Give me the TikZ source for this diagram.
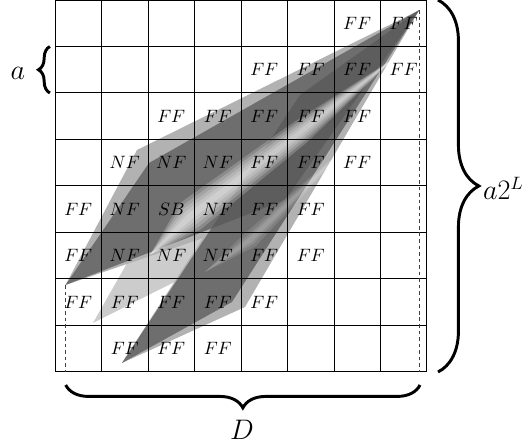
\documentclass[tikz,border=0pt]{standalone}
\usetikzlibrary{decorations.pathreplacing,calc}
\begin{document}
\begin{tikzpicture}[
  outerband/.style={fill=black!30},
  innerband/.style={fill=black!57},
  tipband/.style={fill=black!20},
  overlapshade/.style={fill=black,fill opacity=0.15},
  glow/.style={fill=white,fill opacity=#1},
  gridline/.style={line width=0.6pt,black},
  guide/.style={dash pattern=on 2.2pt off 1.8pt,line width=0.6pt,black!75},
  bigbrace/.style={decorate,line width=1.8pt,decoration={brace,amplitude=#1}},
  cell/.style={inner sep=0pt,font=\fontsize{10.95}{13}\selectfont},
  biglabel/.style={font=\fontsize{16}{19}\selectfont,inner sep=0pt}]
\useasboundingbox (-1.183,-1.591) rectangle (10.194,8.0);
% key points of the three wedges
\coordinate (A) at (7.83,7.78);
\coordinate (B1) at (1.763,4.774);
\coordinate (T1) at (0.226,1.871);
\coordinate (C1) at (5.269,3.591);
\coordinate (P1) at (2.022,4.495);
\coordinate (C1i) at (4.946,3.699);
\coordinate (B2) at (3.118,5.097);
\coordinate (T2) at (0.817,1.054);
\coordinate (C2) at (5.011,3.161);
\coordinate (D3) at (5.376,6.280);
\coordinate (T3) at (1.441,0.194);
\coordinate (E3) at (4.086,1.398);
\coordinate (D3i) at (5.269,5.957);
\coordinate (E3i) at (3.806,1.505);
% wedges
\fill[tipband] (A) -- (B2) -- (T2) -- (C2) -- cycle;
\fill[outerband] (A) -- (B1) -- (T1) -- (C1) -- cycle;
\fill[outerband] (A) -- (D3) -- (T3) -- (E3) -- cycle;
\fill[innerband] (A) -- (P1) -- (T1) -- (C1i) -- cycle;
\fill[innerband] (A) -- (D3i) -- (T3) -- (E3i) -- cycle;
\begin{scope}
  \clip (A) -- (P1) -- (T1) -- (C1i) -- cycle;
  \fill[overlapshade] (A) -- (D3i) -- (T3) -- (E3i) -- cycle;
\end{scope}
% soft bright streaks
\coordinate (Ss) at (2.043,2.516);
\coordinate (Sm1) at (2.903,3.344);
\coordinate (Sm2) at (5.269,5.151);
\coordinate (Se) at (7.30,6.75);
\foreach \w in {1,0.8,0.6,0.4,0.2}
  \fill[glow=0.2] (Ss) -- ($(Sm1)!\w*0.36cm!90:(Se)$) -- ($(Sm2)!\w*0.26cm!90:(Se)$) -- (Se)
    -- ($(Sm2)!\w*0.26cm!-90:(Se)$) -- ($(Sm1)!\w*0.36cm!-90:(Se)$) -- cycle;
\coordinate (Qs) at (3.226,2.151);
\coordinate (Qm) at (4.194,2.839);
\coordinate (Qe) at (6.667,5.204);
\foreach \w in {1,0.6,0.3}
  \fill[glow=0.12] (Qs) -- ($(Qm)!\w*0.18cm!90:(Qe)$) -- (Qe) -- ($(Qm)!\w*0.18cm!-90:(Qe)$) -- cycle;
% grid
\draw[gridline] (0,0) grid (8,8);
% dashed guides
\coordinate (Abase) at (7.83,0);
\coordinate (T1base) at (0.226,0);
\draw[guide] (A) -- (Abase);
\draw[guide] (T1) -- (T1base);
% cell labels
\foreach \cc/\rr/\lab [count=\k] in {6/0/FF,7/0/FF,
  4/1/FF,5/1/FF,6/1/FF,7/1/FF,
  2/2/FF,3/2/FF,4/2/FF,5/2/FF,6/2/FF,
  1/3/NF,2/3/NF,3/3/NF,4/3/FF,5/3/FF,6/3/FF,
  0/4/FF,1/4/NF,2/4/SB,3/4/NF,4/4/FF,5/4/FF,
  0/5/FF,1/5/NF,2/5/NF,3/5/NF,4/5/FF,5/5/FF,
  0/6/FF,1/6/FF,2/6/FF,3/6/FF,4/6/FF,
  1/7/FF,2/7/FF,3/7/FF}
  \node[cell] (cell\k) at (\cc+0.5,7.5-\rr) {$\lab$};
% braces
\coordinate (rbt) at (8.237,8);
\coordinate (rbb) at (8.237,0);
\draw[bigbrace=25pt] (rbt) -- (rbb);
\coordinate (bbr) at (7.85,-0.28);
\coordinate (bbl) at (0.23,-0.28);
\draw[bigbrace=14pt] (bbr) -- (bbl);
\coordinate (lbb) at (-0.11,6.0);
\coordinate (lbt) at (-0.11,7.0);
\draw[bigbrace=7pt] (lbb) -- (lbt);
% labels
\node[biglabel,anchor=base west] (lab2L) at (9.2,3.70) {$a2^L$};
\node[biglabel,anchor=base] (labD) at (4.02,-1.462) {$D$};
\node[biglabel,anchor=base] (laba) at (-0.80,6.30) {$a$};
\end{tikzpicture}
\end{document}
